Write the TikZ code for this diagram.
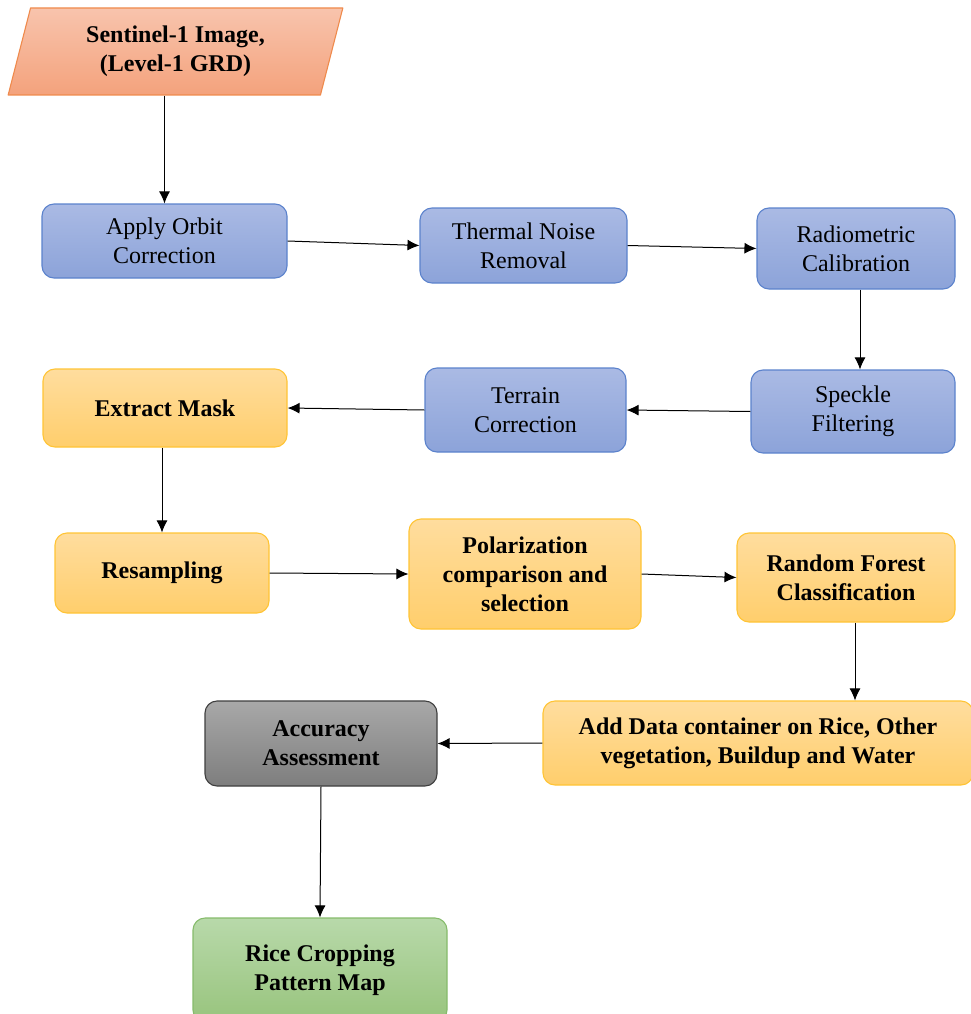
\documentclass[tikz,border=0pt]{standalone}
\usepackage{fontspec}
\setmainfont{Liberation Serif}
\usetikzlibrary{shapes.geometric,arrows.meta}
\definecolor{bluetop}{HTML}{AABAE4}
\definecolor{bluebot}{HTML}{8CA3D9}
\definecolor{blueline}{HTML}{5B82CC}
\definecolor{orgtop}{HTML}{FFDD9E}
\definecolor{orgbot}{HTML}{FFCE6C}
\definecolor{orgline}{HTML}{FFC435}
\definecolor{saltop}{HTML}{F8C4AD}
\definecolor{salbot}{HTML}{F4A27C}
\definecolor{salline}{HTML}{EF8A4C}
\definecolor{graytop}{HTML}{A8A8A8}
\definecolor{graybot}{HTML}{7E7E7E}
\definecolor{grayline}{HTML}{3F3F3F}
\definecolor{grntop}{HTML}{B8D9AA}
\definecolor{grnbot}{HTML}{98C47D}
\definecolor{grnline}{HTML}{86BB6B}
\newcommand\boxfont{\rmfamily\fontsize{24}{29}\selectfont}
\tikzset{
  box/.style={rounded corners=12pt, line width=1.1pt, align=center, inner sep=2pt, font=\boxfont},
  bluebox/.style={box, draw=blueline, top color=bluetop, bottom color=bluebot},
  orgbox/.style={box, draw=orgline, top color=orgtop, bottom color=orgbot, font=\boxfont\bfseries},
  graybox/.style={box, draw=grayline, top color=graytop, bottom color=graybot, font=\boxfont\bfseries},
  grnbox/.style={box, draw=grnline, top color=grntop, bottom color=grnbot, font=\boxfont\bfseries},
  flow/.style={-{Latex[length=12pt,width=11pt]}, line width=1pt},
}
\begin{document}
\begin{tikzpicture}[x=1pt, y=-1pt, line join=round]
\useasboundingbox (0,0) rectangle (971,1014);
% input
\node[trapezium, trapezium left angle=76, trapezium right angle=104, trapezium stretches=true,
  minimum width=335pt, minimum height=87pt, line width=1.1pt, draw=salline,
  top color=saltop, bottom color=salbot, font=\boxfont\bfseries, align=center]
  (sentinel) at (175.5,51.5) {Sentinel-1 Image,\\(Level-1 GRD)};
% preprocessing
\node[bluebox, minimum width=245pt, minimum height=74pt] (orbit) at (164.5,241) {Apply Orbit\\Correction};
\node[bluebox, minimum width=207pt, minimum height=75pt] (noise) at (523.5,245.5) {Thermal Noise\\Removal};
\node[bluebox, minimum width=198pt, minimum height=81pt] (calib) at (856,248.5) {Radiometric\\Calibration};
\node[bluebox, minimum width=204pt, minimum height=83pt] (speckle) at (853,411.5) {Speckle\\Filtering};
\node[bluebox, minimum width=201pt, minimum height=84pt] (terrain) at (525.5,410) {Terrain\\Correction};
% classification
\node[orgbox, minimum width=244pt, minimum height=78pt] (mask) at (165,408) {Extract Mask};
\node[orgbox, minimum width=214pt, minimum height=80pt] (resamp) at (162,573) {Resampling};
\node[orgbox, minimum width=232pt, minimum height=110pt] (polar) at (525,574) {Polarization\\comparison and\\selection};
\node[orgbox, minimum width=218pt, minimum height=89pt] (forest) at (846,577.5) {Random Forest\\Classification};
\node[orgbox, minimum width=430pt, minimum height=84pt] (train) at (758,743) {Add Data container on Rice, Other\\vegetation, Buildup and Water};
\node[graybox, minimum width=232pt, minimum height=85pt] (accuracy) at (321,743.5) {Accuracy\\Assessment};
\node[grnbox, minimum width=254pt, minimum height=104pt] (ricemap) at (320,970) {Rice Cropping\\Pattern Map};
% arrows
\draw[flow] (orbit.north |- sentinel.south) -- (orbit.north);
\draw[flow] (orbit.east) -- (noise.west);
\draw[flow] (noise.east) -- (calib.west);
\draw[flow] ([xshift=4pt]calib.south) -- ([xshift=4pt]calib.south |- speckle.north);
\draw[flow] (speckle.west) -- (terrain.east);
\draw[flow] (terrain.west) -- (mask.east);
\draw[flow] ([xshift=-3pt]mask.south) -- ([xshift=-3pt]mask.south |- resamp.north);
\draw[flow] (resamp.east) -- (polar.west);
\draw[flow] (polar.east) -- (forest.west);
\draw[flow] ([xshift=9pt]forest.south) -- ([xshift=9pt]forest.south |- train.north);
\draw[flow] (train.west) -- (accuracy.east);
\draw[flow] (accuracy.south) -- (ricemap.north);
\end{tikzpicture}
\end{document}
